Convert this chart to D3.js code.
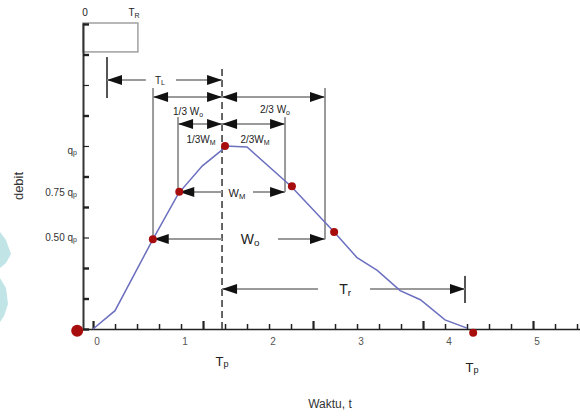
<!DOCTYPE html>
<html>
<head>
<meta charset="utf-8">
<script src="https://cdn.jsdelivr.net/npm/d3@7"></script>
<style>
  body { margin: 0; background: #fff; }
  svg { display: block; }
  text { font-family: "Liberation Sans", Arial, sans-serif; }
</style>
</head>
<body>
<div id="main"></div>
<script>
// hydrograph curve (time t, discharge as fraction of qp)
const hydroT = [0, 0.25, 0.68, 0.97, 1.24, 1.47, 1.5, 1.75, 2.25, 2.74, 3.0, 3.23, 3.49, 3.72, 4.0, 4.25];
const hydroQ = [0, 0.1, 0.49, 0.74, 0.89, 0.98, 1.0, 0.995, 0.78, 0.53, 0.39, 0.32, 0.21, 0.16, 0.05, 0.005];

// red marker points
const pointT = [-0.18, 0.68, 0.98, 1.5, 2.26, 2.74, 4.32];
const pointQ = [-0.01, 0.49, 0.75, 1.0, 0.78, 0.53, -0.02];

// axes
const xLabels = [0, 1, 2, 3, 4, 5];
const yLabelVals = [1, 0.75, 0.5];
const yLabelText = ["", "0.75 ", "0.50 "];

// time to peak
const tp = 1.466;

const width = 580, height = 416;
const x = d3.scaleLinear().domain([-0.114, 5.534]).range([83, 580]);
const y = d3.scaleLinear().domain([0, 1.672]).range([329, 23]);

const svg = d3.select("#main").append("svg")
  .attr("width", width).attr("height", height);

// faint watermark at the left edge
svg.append("path")
  .attr("d", "M0,232 L6,240 L11,254 L6,263 L0,268 Z M0,278 L6,288 L8,304 L4,316 L0,322 Z")
  .attr("fill", "#a6dadd").attr("opacity", 0.7);

// rainfall box (0 .. TR)
svg.append("rect")
  .attr("x", x(-0.114)).attr("y", y(1.672))
  .attr("width", x(0.51) - x(-0.114)).attr("height", y(1.514) - y(1.672))
  .attr("fill", "none").attr("stroke", "#a0a0a0").attr("stroke-width", 1.5);

// x axis
const xTickVals = d3.range(0, 5.6, 0.25);
const xAxis = svg.append("g")
  .attr("transform", `translate(0, ${y(0)})`)
  .call(d3.axisBottom(x).tickValues(xTickVals).tickSize(0).tickFormat(""));
xAxis.select(".domain").attr("stroke", "#222").attr("stroke-width", 1.5);
xAxis.selectAll(".tick").append("line")
  .attr("y1", 0)
  .attr("y2", (d, i) => i % 5 === 0 ? -8 : -5)
  .attr("stroke", "#222")
  .attr("stroke-width", (d, i) => i % 5 === 0 ? 2.2 : 1.5);

svg.append("g").selectAll("text")
  .data(xLabels).enter().append("text")
  .attr("x", d => x(d) + 4).attr("y", y(0) + 16)
  .attr("text-anchor", "middle")
  .attr("font-size", 10).attr("fill", "#555")
  .text(d => d);

// y axis
const yTickVals = d3.range(0, 11).map(k => k / 6);
const yAxis = svg.append("g")
  .attr("transform", `translate(${x(-0.114)}, 0)`)
  .call(d3.axisLeft(y).tickValues(yTickVals).tickSize(0).tickFormat(""));
yAxis.select(".domain").attr("stroke", "#333").attr("stroke-width", 2);
yAxis.selectAll(".tick").append("line")
  .attr("x1", 0).attr("x2", 6)
  .attr("stroke", "#222")
  .attr("stroke-width", (d, i) => (i === 3 || i === 6 || i === 8) ? 1.2 : 2.4);

const yLab = svg.append("g").selectAll("text")
  .data(yLabelVals).enter().append("text")
  .attr("x", 77).attr("y", (d, i) => y(d) + (i === 0 ? 4 : 0))
  .attr("text-anchor", "end").attr("dominant-baseline", "central")
  .attr("font-size", 10).attr("fill", "#333");
yLab.append("tspan").text((d, i) => yLabelText[i]);
yLab.append("tspan").text("q");
yLab.append("tspan").attr("font-size", 7).attr("dy", 2).text("p");

// axis titles
svg.append("text")
  .attr("transform", `translate(18, 186) rotate(-90)`)
  .attr("text-anchor", "middle").attr("dominant-baseline", "central")
  .attr("font-size", 13).attr("fill", "#333")
  .text("debit");
svg.append("text")
  .attr("x", 330).attr("y", 404)
  .attr("text-anchor", "middle").attr("dominant-baseline", "central")
  .attr("font-size", 12).attr("fill", "#333")
  .text("Waktu, t");

// vertical guide lines (t, q from, q to)
const guides = [
  [0.159, 1.262, 1.486],
  [0.682, 0.49, 1.317],
  [2.636, 0.49, 1.317],
  [0.966, 0.749, 1.158],
  [2.182, 0.749, 1.158],
  [4.227, 0.142, 0.29]
];
svg.append("g").selectAll("line")
  .data(guides).enter().append("line")
  .attr("x1", d => x(d[0])).attr("x2", d => x(d[0]))
  .attr("y1", d => y(d[1])).attr("y2", d => y(d[2]))
  .attr("stroke", (d, i) => i === 0 || i === 5 ? "#555" : "#9a9a9a")
  .attr("stroke-width", 2);

// dashed line at Tp
svg.append("line")
  .attr("x1", x(tp)).attr("x2", x(tp))
  .attr("y1", y(1.42)).attr("y2", y(-0.02))
  .attr("stroke", "#555").attr("stroke-width", 1.8)
  .attr("stroke-dasharray", "7,4");

// arrows: q, t start, t end, gap start, gap end
const arrows = [
  [1.361, 0.159, tp, 0.60, 0.943],
  [1.268, 0.682, tp, null, null],
  [1.268, tp, 2.636, null, null],
  [1.120, 0.966, tp, null, null],
  [1.120, tp, 2.182, null, null],
  [0.749, 0.98, 2.182, tp, 1.818],
  [0.492, 0.69, 2.636, tp, 2.102],
  [0.219, tp, 4.227, 2.557, 3.148]
];
const arrowG = svg.append("g");
function head(px, py, dir) {
  const L = 15, W = 5;
  return `M${px},${py} L${px - dir * L},${py - W} L${px - dir * L},${py + W} Z`;
}
arrows.forEach(a => {
  const [q, t1, t2, g1, g2] = a;
  const py = y(q);
  const segs = g1 === null ? [[t1, t2]] : [[t1, g1], [g2, t2]];
  segs.forEach(s => {
    arrowG.append("line")
      .attr("x1", x(s[0])).attr("x2", x(s[1]))
      .attr("y1", py).attr("y2", py)
      .attr("stroke", "#9a9a9a").attr("stroke-width", 2);
  });
  arrowG.append("path").attr("d", head(x(t1), py, -1)).attr("fill", "#111");
  arrowG.append("path").attr("d", head(x(t2), py, 1)).attr("fill", "#111");
});

// hydrograph
const line = d3.line().x(d => x(d[0])).y(d => y(d[1]));
svg.append("path")
  .datum(hydroT.map((t, i) => [t, hydroQ[i]]))
  .attr("d", line)
  .attr("fill", "none").attr("stroke", "#6b6fbf").attr("stroke-width", 1.5);

svg.append("g").selectAll("circle")
  .data(pointT.map((t, i) => [t, pointQ[i]])).enter().append("circle")
  .attr("cx", d => x(d[0])).attr("cy", d => y(d[1]))
  .attr("r", (d, i) => i === 0 ? 6 : 4)
  .attr("fill", "#a80d0d");

// annotation labels: t, q, main, subscript, font size
const labels = [
  [0.76, 1.361, "T", "L", 10],
  [1.08, 1.191, "1/3 W", "o", 10],
  [2.068, 1.202, "2/3 W", "o", 10],
  [1.227, 1.038, "1/3W", "M", 10],
  [1.841, 1.038, "2/3W", "M", 10],
  [1.636, 0.743, "W", "M", 11],
  [1.784, 0.492, "W", "o", 14],
  [2.864, 0.219, "T", "r", 14],
  [tp, -0.175, "T", "p", 13],
  [4.307, -0.208, "T", "p", 13],
  [-0.091, 1.732, "0", "", 10],
  [0.466, 1.732, "T", "R", 10]
];
const labG = svg.append("g").selectAll("text")
  .data(labels).enter().append("text")
  .attr("x", d => x(d[0])).attr("y", d => y(d[1]))
  .attr("text-anchor", "middle").attr("dominant-baseline", "central")
  .attr("font-size", d => d[4]).attr("fill", "#222");
labG.append("tspan").text(d => d[2]);
labG.append("tspan")
  .attr("font-size", d => d[4] * 0.7).attr("dy", d => d[4] * 0.25)
  .text(d => d[3]);
</script>
</body>
</html>
